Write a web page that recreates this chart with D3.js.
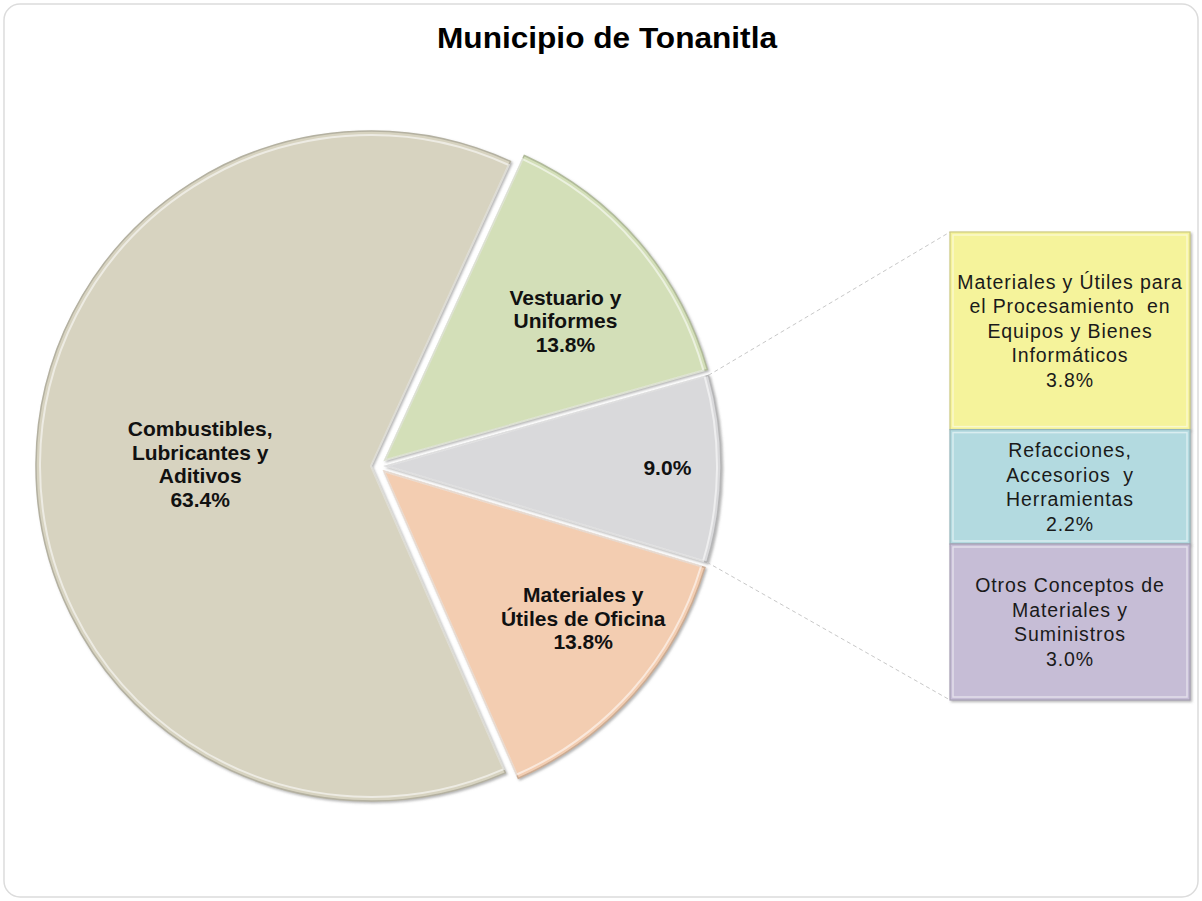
<!DOCTYPE html>
<html>
<head>
<meta charset="utf-8">
<script src="https://cdn.jsdelivr.net/npm/d3@7"></script>
<style>
  body { margin: 0; background: #fff; }
  text { font-family: "Liberation Sans", Arial, sans-serif; }
</style>
</head>
<body>
<div id="chart"></div>
<script>
// data
const chartTitle = "Municipio de Tonanitla";

// main pie, clockwise from the top right
const pieCategories = ["Vestuario y\nUniformes", "", "Materiales y\nÚtiles de Oficina", "Combustibles,\nLubricantes y\nAditivos"];
const pieValues = [13.8, 9.0, 13.8, 63.4];
const pieColors = ["#d3dfb8", "#d9d9db", "#f3cdb1", "#d7d3c0"];

// breakdown of the 9.0% slice
const subCategories = ["Materiales y Útiles para\nel Procesamiento  en\nEquipos y Bienes\nInformáticos", "Refacciones,\nAccesorios  y\nHerramientas", "Otros Conceptos de\nMateriales y\nSuministros"];
const subValues = [3.8, 2.2, 3.0];
const subColors = ["#f5f39b", "#b3dae0", "#c6bdd6"];

const width = 1202, height = 901;
const cx = 378, cy = 466, radius = 335;
const explode = [9, 8, 8, 7];
// label placement: fraction of radius, angle tweak in degrees
const labelPos = [0.68, 0.84, 0.74, 0.51];
const labelTurn = [3, 0, -5, 0];

const svg = d3.select("#chart").append("svg")
    .attr("width", width)
    .attr("height", height);

// shadow for the slices
const defs = svg.append("defs");
const f = defs.append("filter").attr("id", "sh")
    .attr("x", "-10%").attr("y", "-10%").attr("width", "120%").attr("height", "120%");
f.append("feDropShadow")
    .attr("dx", 1.5).attr("dy", 1.5).attr("stdDeviation", 1.2)
    .attr("flood-color", "#777").attr("flood-opacity", 0.55);

// outer frame
svg.append("rect")
    .attr("x", 4).attr("y", 4)
    .attr("width", width - 8).attr("height", height - 8)
    .attr("rx", 16)
    .attr("fill", "#fff")
    .attr("stroke", "#dcdcdc")
    .attr("stroke-width", 1.5);

// title
svg.append("text")
    .attr("x", 607).attr("y", 48)
    .attr("text-anchor", "middle")
    .attr("font-size", 30)
    .attr("font-weight", "bold")
    .attr("textLength", 340)
    .attr("lengthAdjust", "spacingAndGlyphs")
    .text(chartTitle);

// pie
const startA = 24.6 * Math.PI / 180;
const pie = d3.pie().sort(null).startAngle(startA).endAngle(startA + 2 * Math.PI);
const arcs = pie(pieValues);

const arc = d3.arc().innerRadius(0).outerRadius(radius);
const arcInner = d3.arc().innerRadius(0).outerRadius(radius - 4);

const slices = svg.append("g").attr("class", "slices")
    .selectAll("g")
    .data(arcs)
    .enter()
    .append("g")
    .attr("transform", (d, i) => {
        let m = (d.startAngle + d.endAngle) / 2;
        let x = cx + Math.sin(m) * explode[i];
        let y = cy - Math.cos(m) * explode[i];
        return `translate(${x},${y})`;
    });

slices.append("path")
    .attr("d", arc)
    .attr("fill", (d, i) => pieColors[i])
    .attr("stroke", (d, i) => d3.color(pieColors[i]).darker(0.5))
    .attr("stroke-width", 1.5)
    .attr("filter", "url(#sh)");

// bevel highlight
slices.append("path")
    .attr("d", arcInner)
    .attr("fill", "none")
    .attr("stroke", "rgba(255,255,255,0.55)")
    .attr("stroke-width", 2);

// pie labels
slices.each(function(d, i) {
    let lines = pieCategories[i] ? pieCategories[i].split("\n") : [];
    lines.push(pieValues[i].toFixed(1) + "%");
    let a = (d.startAngle + d.endAngle) / 2 + labelTurn[i] * Math.PI / 180;
    let c = [Math.sin(a) * radius * labelPos[i], -Math.cos(a) * radius * labelPos[i]];
    let lh = 23.5;
    let t = d3.select(this).append("text")
        .attr("text-anchor", "middle")
        .attr("font-size", 21)
        .attr("font-weight", "bold")
        .attr("fill", "#111");
    lines.forEach((l, k) => {
        t.append("tspan")
            .attr("x", c[0])
            .attr("y", c[1] + (k - (lines.length - 1) / 2) * lh + 7)
            .text(l);
    });
});

// stacked bar for the 9.0% breakdown
const barX = 950, barW = 240;
const yScale = d3.scaleLinear()
    .domain([0, d3.sum(subValues)])
    .range([232, 700]);

let cum = 0;
const stack = subValues.map((v, i) => {
    let s = {y0: cum, y1: cum + v, i: i};
    cum += v;
    return s;
});

// connector lines from the gray slice
const gray = arcs[1];
const gm = (gray.startAngle + gray.endAngle) / 2;
const grayOff = [Math.sin(gm) * explode[1], -Math.cos(gm) * explode[1]];
const p1 = [cx + grayOff[0] + Math.sin(gray.startAngle) * radius, cy + grayOff[1] - Math.cos(gray.startAngle) * radius];
const p2 = [cx + grayOff[0] + Math.sin(gray.endAngle) * radius, cy + grayOff[1] - Math.cos(gray.endAngle) * radius];

svg.append("g").selectAll("line")
    .data([[p1, [barX, yScale(0)]], [p2, [barX, yScale(d3.sum(subValues))]]])
    .enter()
    .append("line")
    .attr("x1", d => d[0][0]).attr("y1", d => d[0][1])
    .attr("x2", d => d[1][0]).attr("y2", d => d[1][1])
    .attr("stroke", "#c8c8c8")
    .attr("stroke-width", 1)
    .attr("stroke-dasharray", "4,3");

const boxes = svg.append("g").selectAll("g")
    .data(stack)
    .enter()
    .append("g");

boxes.append("rect")
    .attr("x", barX)
    .attr("y", d => yScale(d.y0))
    .attr("width", barW)
    .attr("height", d => yScale(d.y1) - yScale(d.y0))
    .attr("fill", d => subColors[d.i])
    .attr("stroke", d => d3.color(subColors[d.i]).darker(0.5))
    .attr("stroke-width", 1.2)
    .attr("filter", "url(#sh)");

boxes.append("rect")
    .attr("x", barX + 3)
    .attr("y", d => yScale(d.y0) + 3)
    .attr("width", barW - 6)
    .attr("height", d => yScale(d.y1) - yScale(d.y0) - 6)
    .attr("fill", "none")
    .attr("stroke", "rgba(255,255,255,0.5)")
    .attr("stroke-width", 1.5);

boxes.each(function(d) {
    let lines = subCategories[d.i].split("\n");
    lines.push(subValues[d.i].toFixed(1) + "%");
    let mid = (yScale(d.y0) + yScale(d.y1)) / 2;
    let lh = 24.5;
    let t = d3.select(this).append("text")
        .attr("text-anchor", "middle")
        .attr("font-size", 19.5)
        .attr("letter-spacing", 0.9)
        .attr("fill", "#1a1a1a")
        .attr("xml:space", "preserve");
    lines.forEach((l, k) => {
        t.append("tspan")
            .attr("x", barX + barW / 2)
            .attr("y", mid + (k - (lines.length - 1) / 2) * lh + 7)
            .text(l);
    });
});
</script>
</body>
</html>
